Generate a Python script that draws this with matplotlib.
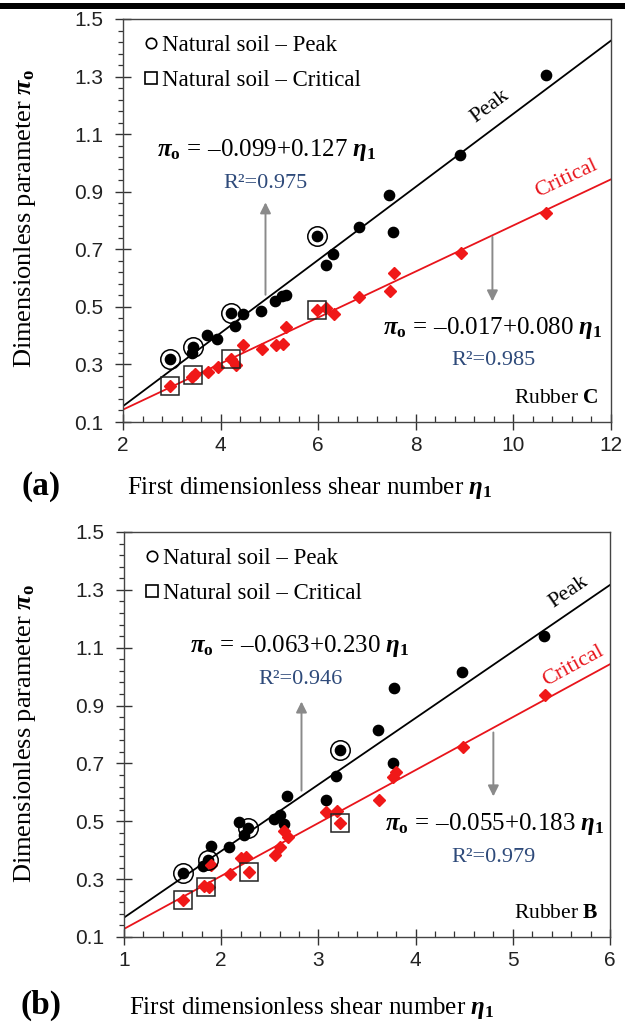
import numpy as np
import matplotlib
matplotlib.use("Agg")
import matplotlib.pyplot as plt
from matplotlib.lines import Line2D
from matplotlib.patches import Rectangle
from matplotlib.ticker import MultipleLocator, FormatStrFormatter

# ---- panel (a): rubber C ----
c_peak_x = [2.96, 3.44, 3.42, 3.72, 3.93, 4.22, 4.30, 4.46, 4.82, 5.11,
            5.25, 5.33, 5.98, 6.15, 6.31, 6.83, 7.45, 7.54, 8.90, 10.66]
c_peak_y = [0.320, 0.361, 0.338, 0.402, 0.390, 0.478, 0.435, 0.475, 0.484, 0.522,
            0.536, 0.542, 0.747, 0.645, 0.682, 0.778, 0.889, 0.760, 1.027, 1.307]
c_crit_x = [2.97, 3.42, 3.47, 3.74, 3.95, 4.22, 4.31, 4.46, 4.84, 5.14,
            5.28, 5.33, 5.98, 6.17, 6.32, 6.83, 7.47, 7.55, 8.92, 10.66]
c_crit_y = [0.224, 0.256, 0.268, 0.274, 0.291, 0.320, 0.299, 0.367, 0.352, 0.367,
            0.370, 0.429, 0.490, 0.495, 0.475, 0.533, 0.554, 0.616, 0.686, 0.825]
c_nat_peak_x = [2.96, 3.44, 4.22, 5.98]
c_nat_peak_y = [0.320, 0.361, 0.478, 0.747]
c_nat_crit_x = [2.97, 3.44, 4.22, 5.98]
c_nat_crit_y = [0.224, 0.262, 0.320, 0.490]
c_fit_peak = (-0.099, 0.127, 0.975)
c_fit_crit = (-0.017, 0.080, 0.985)

# ---- panel (b): rubber B ----
b_peak_x = [1.61, 1.81, 1.86, 1.89, 2.08, 2.18, 2.23, 2.28, 2.54, 2.60,
            2.65, 2.68, 3.08, 3.18, 3.22, 3.61, 3.78, 3.77, 4.48, 5.32]
b_peak_y = [0.322, 0.347, 0.365, 0.415, 0.411, 0.496, 0.452, 0.478, 0.507, 0.521,
            0.490, 0.589, 0.574, 0.655, 0.748, 0.815, 0.960, 0.703, 1.015, 1.142]
b_crit_x = [1.61, 1.82, 1.87, 1.90, 2.09, 2.20, 2.25, 2.29, 2.55, 2.60,
            2.65, 2.69, 3.08, 3.19, 3.22, 3.62, 3.77, 3.80, 4.49, 5.33]
b_crit_y = [0.227, 0.275, 0.272, 0.348, 0.319, 0.374, 0.377, 0.324, 0.382, 0.412,
            0.467, 0.447, 0.531, 0.537, 0.494, 0.574, 0.653, 0.670, 0.757, 0.935]
b_nat_peak_x = [1.61, 1.86, 2.28, 3.22]
b_nat_peak_y = [0.322, 0.365, 0.478, 0.748]
b_nat_crit_x = [1.61, 1.84, 2.29, 3.22]
b_nat_crit_y = [0.227, 0.273, 0.324, 0.494]
b_fit_peak = (-0.063, 0.230, 0.946)
b_fit_crit = (-0.055, 0.183, 0.979)

SERIF = "Liberation Serif"
TICKFONT = "Liberation Sans"
R2_COLOR = "#2E4A7A"

plt.rcParams["font.family"] = SERIF
plt.rcParams["mathtext.fontset"] = "custom"
plt.rcParams["mathtext.rm"] = SERIF
plt.rcParams["mathtext.it"] = SERIF + ":italic"
plt.rcParams["mathtext.bf"] = SERIF + ":bold"
plt.rcParams["mathtext.bfit"] = SERIF + ":bold:italic"


def eq_text(fit):
    a, b, _ = fit
    return (r"$\mathbfit{\pi}_{\mathbf{o}}\,{=}\,\mathrm{–%.3f}{+}\mathrm{%.3f}\ \mathbfit{\eta}_{\mathbf{1}}$"
            % (abs(a), b))


def draw_panel(ax, xlim, xmajor, xminor, peak_x, peak_y, crit_x, crit_y,
               np_x, np_y, nc_x, nc_y, fit_p, fit_c, txt, rubber):
    lx = np.array(xlim, dtype=float)
    ax.plot(lx, fit_p[0] + fit_p[1] * lx, color="black", lw=1.3, zorder=2)
    ax.plot(lx, fit_c[0] + fit_c[1] * lx, color="#E8141B", lw=1.3, zorder=2)
    ax.plot(peak_x, peak_y, "o", color="black", ms=7.4, zorder=3)
    ax.plot(crit_x, crit_y, "D", color="#F01818", ms=6, zorder=3)
    ax.plot(np_x, np_y, "o", mfc="none", mec="black", mew=1.1, ms=14, zorder=4)
    ax.plot(nc_x, nc_y, "s", mfc="none", mec="#222222", mew=1.1, ms=13, zorder=4)

    ax.set_xlim(*xlim)
    ax.set_ylim(0.1, 1.5)
    ax.xaxis.set_major_locator(MultipleLocator(xmajor))
    ax.xaxis.set_minor_locator(MultipleLocator(xminor))
    ax.yaxis.set_major_locator(MultipleLocator(0.2, offset=0.1))
    ax.yaxis.set_minor_locator(MultipleLocator(0.04, offset=0.02))
    ax.yaxis.set_major_formatter(FormatStrFormatter("%.1f"))
    ax.tick_params(axis="both", which="major", direction="inout", length=12,
                   width=1.0, color="#333333", labelsize=15, labelcolor="#222222")
    ax.tick_params(axis="y", which="major", pad=8)
    ax.tick_params(axis="x", which="major", pad=4)
    ax.tick_params(axis="x", which="minor", direction="in", length=4.5, width=0.9, color="#333333")
    ax.tick_params(axis="y", which="minor", direction="out", length=3.5, width=0.9, color="#333333")
    for lab in ax.get_xticklabels() + ax.get_yticklabels():
        lab.set_family(TICKFONT)
    for sp in ax.spines.values():
        sp.set_color("#444444")
        sp.set_linewidth(1.0)

    # legend
    handles = [Line2D([], [], ls="none", marker="o", mfc="none", mec="black", mew=1.2, ms=7.5),
               Line2D([], [], ls="none", marker="s", mfc="none", mec="black", mew=1.2, ms=8)]
    ax.legend(handles, ["Natural soil \u2013 Peak", "Natural soil \u2013 Critical"],
              loc="upper left", bbox_to_anchor=(0.01, 1.0), frameon=False,
              fontsize=16.5, handlelength=0.6, handletextpad=0.2, labelspacing=0.6,
              borderaxespad=0.3)

    # equations and arrows
    ax.text(txt["eq1"][0], txt["eq1"][1], eq_text(fit_p), fontsize=18, ha="center", va="center")
    ax.text(txt["r1"][0], txt["r1"][1], "R\u00b2=%.3f" % fit_p[2], fontsize=16,
            color=R2_COLOR, ha="center", va="center")
    ax.text(txt["eq2"][0], txt["eq2"][1], eq_text(fit_c), fontsize=18, ha="center", va="center")
    ax.text(txt["r2"][0], txt["r2"][1], "R\u00b2=%.3f" % fit_c[2], fontsize=16,
            color=R2_COLOR, ha="center", va="center")
    arrow = dict(arrowstyle="-|>", color="#8A8A8A", lw=1.4, mutation_scale=16, shrinkA=0, shrinkB=0)
    ax.annotate("", xy=txt["up"][1], xytext=txt["up"][0], arrowprops=arrow)
    ax.annotate("", xy=txt["down"][1], xytext=txt["down"][0], arrowprops=arrow)

    ang_p = np.degrees(np.arctan(fit_p[1]))
    ang_c = np.degrees(np.arctan(fit_c[1]))
    ax.text(txt["peak"][0], txt["peak"][1], "Peak", fontsize=16, color="black",
            rotation=ang_p, transform_rotates_text=True, rotation_mode="anchor",
            ha="center", va="center")
    ax.text(txt["crit"][0], txt["crit"][1], "Critical", fontsize=16, color="#E8141B",
            rotation=ang_c, transform_rotates_text=True, rotation_mode="anchor",
            ha="center", va="center")
    ax.text(txt["rub"][0], txt["rub"][1], r"Rubber $\mathbf{%s}$" % rubber, fontsize=15.5,
            ha="right", va="center")


W, H = 625, 1035
fig = plt.figure(figsize=(W / 100, H / 100), dpi=100)

# thick rule at the very top of the figure
fig.patches.append(Rectangle((0, 1 - 8.5 / H), 1, 5.5 / H, transform=fig.transFigure,
                             facecolor="black", edgecolor="none"))

ax1 = fig.add_axes([123 / W, 1 - 422 / H, (611 - 123) / W, (422 - 19) / H])
draw_panel(ax1, (2, 12), 2, 0.4, c_peak_x, c_peak_y, c_crit_x, c_crit_y,
           c_nat_peak_x, c_nat_peak_y, c_nat_crit_x, c_nat_crit_y, c_fit_peak, c_fit_crit,
           {"eq1": (4.94, 1.044), "r1": (4.93, 0.927), "eq2": (9.57, 0.425), "r2": (9.59, 0.314),
            "up": ((4.92, 0.542), (4.92, 0.863)), "down": ((9.57, 0.743), (9.57, 0.519)),
            "peak": (9.52, 1.196), "crit": (11.09, 0.945), "rub": (11.74, 0.180)}, "C")

ax2 = fig.add_axes([124 / W, 1 - 937 / H, (610 - 124) / W, (937 - 532) / H])
draw_panel(ax2, (1, 6), 1, 0.2, b_peak_x, b_peak_y, b_crit_x, b_crit_y,
           b_nat_peak_x, b_nat_peak_y, b_nat_crit_x, b_nat_crit_y, b_fit_peak, b_fit_crit,
           {"eq1": (2.81, 1.105), "r1": (2.82, 0.989), "eq2": (4.81, 0.490), "r2": (4.80, 0.374),
            "up": ((2.826, 0.606), (2.826, 0.914)), "down": ((4.80, 0.807), (4.80, 0.586)),
            "peak": (5.57, 1.291), "crit": (5.62, 1.036), "rub": (5.88, 0.182)}, "B")

ylab = r"Dimensionless parameter $\mathbfit{\pi}_{\mathbf{o}}$"
xlab = r"First dimensionless shear number $\mathbfit{\eta}_{\mathbf{1}}$"
fig.text(25 / W, 1 - 218 / H, ylab, rotation=90, fontsize=19, ha="center", va="center")
fig.text(25 / W, 1 - 733 / H, ylab, rotation=90, fontsize=19, ha="center", va="center")
fig.text(310 / W, 1 - 488 / H, xlab, fontsize=18, ha="center", va="center")
fig.text(312 / W, 1 - 1008 / H, xlab, fontsize=18, ha="center", va="center")
fig.text(41 / W, 1 - 486 / H, "(a)", fontsize=24, fontweight="bold", ha="center", va="center")
fig.text(41 / W, 1 - 1005 / H, "(b)", fontsize=24, fontweight="bold", ha="center", va="center")

fig.savefig("out.png", dpi=100)
